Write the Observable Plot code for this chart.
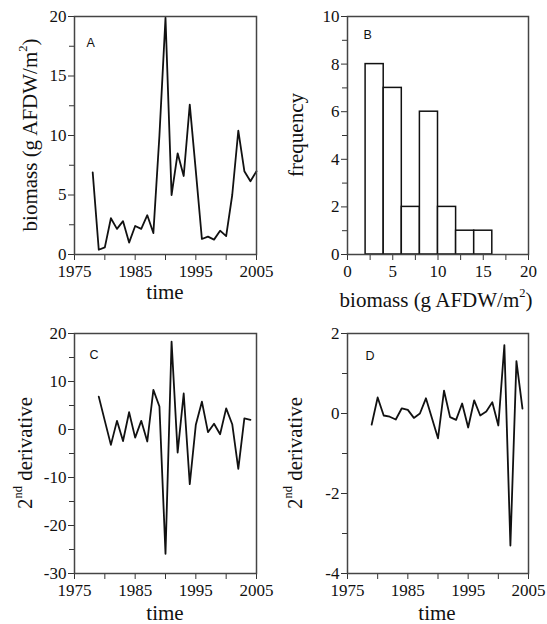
<!DOCTYPE html>
<html><head><meta charset="utf-8">
<script src="https://cdn.jsdelivr.net/npm/d3@7"></script>
<script src="https://cdn.jsdelivr.net/npm/@observablehq/plot@0.6"></script>
<style>
body{margin:0;background:#fff;}
#fig{position:relative;width:547px;height:624px;background:#fff;overflow:hidden;}
#fig > svg{position:absolute;overflow:visible;}
</style></head><body><div id="fig"></div>
<script>
// ---- data ----
const yearsA = [1978,1979,1980,1981,1982,1983,1984,1985,1986,1987,1988,1989,1990,1991,1992,1993,1994,1995,1996,1997,1998,1999,2000,2001,2002,2003,2004,2005];
const biomass = [6.9,0.4,0.6,3.05,2.15,2.8,1.0,2.4,2.15,3.3,1.8,10,19.9,5.0,8.5,6.6,12.6,7.0,1.3,1.5,1.25,2.0,1.55,5.0,10.4,7.0,6.15,7.0];
const binLo = [2,4,6,8,10,12,14];
const binHi = [4,6,8,10,12,14,16];
const freq  = [8,7,2,6,2,1,1];
const yearsC = [1979,1980,1981,1982,1983,1984,1985,1986,1987,1988,1989,1990,1991,1992,1993,1994,1995,1996,1997,1998,1999,2000,2001,2002,2003,2004];
const deriv2C = [6.85,1.8,-3.2,1.8,-2.4,3.6,-1.7,1.8,-2.5,8.25,4.8,-25.9,18.3,-4.8,7.5,-11.4,1.0,5.8,-0.56,1.2,-1.0,4.4,1.1,-8.2,2.3,2.0];
const yearsD = yearsC;
const deriv2D = [-0.28,0.4,-0.05,-0.08,-0.15,0.13,0.09,-0.11,0.0,0.38,-0.12,-0.62,0.57,-0.09,-0.16,0.25,-0.35,0.33,-0.05,0.05,0.28,-0.3,1.71,-3.3,1.31,0.12];

const yearMajor = [1975,1985,1995,2005];
const yearMinor = [1980,1990,2000];
const yAMajor = [0,5,10,15,20], yAMinor = [2.5,7.5,12.5,17.5];
const xBMajor = [0,5,10,15,20], xBMinor = [2.5,7.5,12.5,17.5];
const yBMajor = [0,2,4,6,8,10], yBMinor = [1,3,5,7,9];
const yCMajor = [-30,-20,-10,0,10,20], yCMinor = [-25,-15,-5,5,15];
const yDMajor = [-4,-2,0,2], yDMinor = [-3,-1,1];

// ---- helpers ----
const fig = document.getElementById("fig");
const SERIF = "'Liberation Serif','Times New Roman',serif";
const fmt = d => String(d);
const none = () => "";
const AX = {tickSize: 6, tickPadding: 2, label: null, stroke: "#333", fontFamily: SERIF, fontSize: 17, fill: "#111"};

function axes(xMaj, xMin, yMaj, yMin) {
  return [
    Plot.axisX(xMaj, {...AX, tickFormat: fmt, tickPadding: 4}),
    Plot.axisX(xMin, {...AX, tickFormat: none}),
    Plot.axisY(yMaj, {...AX, tickFormat: fmt}),
    Plot.axisY(yMin, {...AX, tickSize: 5, tickFormat: none})
  ];
}

function letter(s, dx, dy) {
  return Plot.text([s], {text: d => d, frameAnchor: "top-left", dx, dy, textAnchor: "start", lineAnchor: "bottom",
    fontFamily: "'Liberation Sans',Arial,sans-serif", fontSize: 12.5, fill: "#111"});
}

function place(svg, left, top) {
  svg.style.left = left + "px";
  svg.style.top = top + "px";
  fig.appendChild(svg);
  return d3.select(svg);
}

function addLabel(sel, x, y, parts, rotate) {
  const t = sel.append("text")
    .attr("transform", `translate(${x},${y})` + (rotate ? " rotate(-90)" : ""))
    .attr("text-anchor", "middle")
    .attr("font-family", SERIF)
    .attr("font-size", 21)
    .attr("fill", "#111");
  for (const p of parts) {
    const ts = t.append("tspan").text(p.t);
    if (p.sup) ts.attr("dy", -10).attr("font-size", 12.5);
    if (p.after) ts.attr("dy", 10);
  }
}

const common = {style: {fontFamily: SERIF, fontSize: "17px", color: "#111", background: "transparent"}};

// ---- Panel A ----
const pA = Plot.plot({
  ...common, width: 270, height: 310,
  marginLeft: 74, marginRight: 14, marginTop: 16, marginBottom: 56,
  x: {domain: [1975, 2005]}, y: {domain: [0, 20]},
  marks: [
    ...axes(yearMajor, yearMinor, yAMajor, yAMinor),
    Plot.line(yearsA.map((t, i) => ({t, v: biomass[i]})), {x: "t", y: "v", stroke: "#111", strokeWidth: 1.8}),
    Plot.frame({stroke: "#444", strokeWidth: 1.5}),
    letter("A", 12, 30)
  ]
});
const sA = place(pA, 0, 0);
addLabel(sA, 37, 135, [{t: "biomass (g AFDW/m"}, {t: "2", sup: true}, {t: ")", after: true}], true);
addLabel(sA, 165, 299, [{t: "time"}], false);

// ---- Panel B ----
const pB = Plot.plot({
  ...common, width: 277, height: 312,
  marginLeft: 77, marginRight: 19, marginTop: 16, marginBottom: 58,
  x: {domain: [0, 20]}, y: {domain: [0, 10]},
  marks: [
    ...axes(xBMajor, xBMinor, yBMajor, yBMinor),
    Plot.rectY(binLo.map((lo, i) => ({lo, hi: binHi[i], n: freq[i]})), {x1: "lo", x2: "hi", y: "n", fill: "white", stroke: "#111", strokeWidth: 1.5, inset: 0}),
    Plot.frame({stroke: "#444", strokeWidth: 1.5}),
    letter("B", 16, 22)
  ]
});
const sB = place(pB, 270, 0);
addLabel(sB, 33, 135, [{t: "frequency"}], true);
addLabel(sB, 166, 307, [{t: "biomass (g AFDW/m"}, {t: "2", sup: true}, {t: ")", after: true}], false);

// ---- Panel C ----
const pC = Plot.plot({
  ...common, width: 270, height: 314,
  marginLeft: 74, marginRight: 14, marginTop: 23, marginBottom: 51,
  x: {domain: [1975, 2005]}, y: {domain: [-30, 20]},
  marks: [
    ...axes(yearMajor, yearMinor, yCMajor, yCMinor),
    Plot.line(yearsC.map((t, i) => ({t, v: deriv2C[i]})), {x: "t", y: "v", stroke: "#111", strokeWidth: 1.8}),
    Plot.frame({stroke: "#444", strokeWidth: 1.5}),
    letter("C", 15, 25)
  ]
});
const sC = place(pC, 0, 310);
addLabel(sC, 32, 143, [{t: "2"}, {t: "nd", sup: true}, {t: " derivative", after: true}], true);
addLabel(sC, 165, 310, [{t: "time"}], false);

// ---- Panel D ----
const pD = Plot.plot({
  ...common, width: 277, height: 314,
  marginLeft: 77, marginRight: 19, marginTop: 23, marginBottom: 51,
  x: {domain: [1975, 2005]}, y: {domain: [-4, 2]},
  marks: [
    ...axes(yearMajor, yearMinor, yDMajor, yDMinor),
    Plot.line(yearsD.map((t, i) => ({t, v: deriv2D[i]})), {x: "t", y: "v", stroke: "#111", strokeWidth: 1.8}),
    Plot.frame({stroke: "#444", strokeWidth: 1.5}),
    letter("D", 18, 26)
  ]
});
const sD = place(pD, 270, 310);
addLabel(sD, 32, 143, [{t: "2"}, {t: "nd", sup: true}, {t: " derivative", after: true}], true);
addLabel(sD, 167, 310, [{t: "time"}], false);
</script></body></html>
